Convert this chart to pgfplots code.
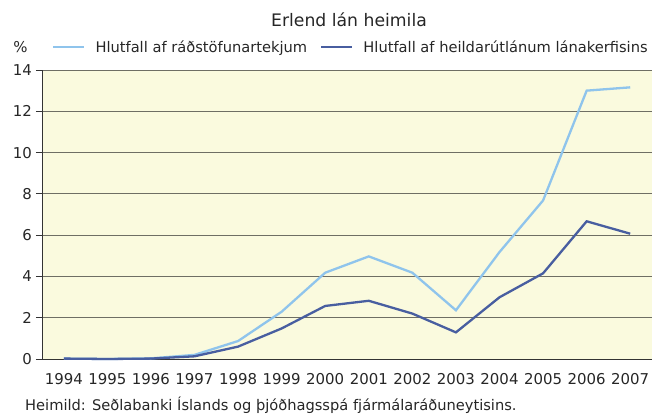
\documentclass[border=0pt]{standalone}
\usepackage{pgfplots}
\pgfplotsset{compat=1.18}
\usepackage{fontspec}
\setmainfont{DejaVu Sans}
\definecolor{bgyel}{RGB}{250,250,222}
\definecolor{lblue}{RGB}{143,196,236}
\definecolor{dblue}{RGB}{72,94,160}
\definecolor{gridc}{RGB}{110,110,100}
\begin{document}
\begin{tikzpicture}
\useasboundingbox (0,0) rectangle (652bp,414bp);
\begin{axis}[
  at={(42bp,55bp)}, anchor=south west,
  scale only axis, width=610bp, height=289bp,
  xmin=-0.5, xmax=13.5, ymin=0, ymax=14,
  axis x line=bottom, axis y line=left,
  axis line style={-, black!80, line width=0.9bp},
  axis background/.style={fill=bgyel},
  xtick={0,...,13},
  xticklabels={1994,1995,1996,1997,1998,1999,2000,2001,2002,2003,2004,2005,2006,2007},
  major x tick style={draw=none},
  extra x ticks={-0.5,0.5,...,13.5},
  extra x tick labels={},
  extra x tick style={major tick length=6bp, tick align=outside, tick style={black!80, line width=0.8bp}, grid=none},
  ytick={0,2,...,14},
  ymajorgrids,
  major grid style={gridc, line width=0.9bp},
  tick align=outside, major tick length=6bp,
  tick style={black!80, line width=0.8bp},
  ticklabel style={font=\fontsize{15}{17}\selectfont, text=black!85},
  xticklabel style={yshift=-4.5bp},
  yticklabel style={xshift=-0.5bp},
  /pgf/number format/assume math mode=true,
  legend style={at={(axis description cs:0.0164,1.0796)}, anchor=west, draw=none, fill=none,
    inner sep=0pt, nodes={inner sep=0pt, text=black!85},
    font=\fontsize{14.7}{17}\selectfont, legend columns=2,
    /tikz/every odd column/.append style={column sep=10bp},
    /tikz/every even column/.append style={column sep=13bp}},
  legend image code/.code={\draw[#1] (0bp,0bp) -- (31bp,0bp);},
  clip=false,
]
\addplot[lblue, line width=2.3bp] coordinates {
(0,0.02) (1,0.0) (2,0.03) (3,0.2) (4,0.87) (5,2.29) (6,4.18) (7,4.97) (8,4.18) (9,2.36) (10,5.18) (11,7.68) (12,13.0) (13,13.16)};
\addlegendentry{Hlutfall af ráðstöfunartekjum}
\addplot[dblue, line width=2.3bp] coordinates {
(0,0.02) (1,0.0) (2,0.02) (3,0.13) (4,0.6) (5,1.48) (6,2.57) (7,2.82) (8,2.2) (9,1.29) (10,2.99) (11,4.15) (12,6.67) (13,6.07)};
\addlegendentry{Hlutfall af heildarútlánum lánakerfisins}
\end{axis}
\node[font=\fontsize{17.3}{20}\selectfont, text=black!85] at (349bp,394bp) {Erlend lán heimila};
\node[font=\fontsize{15}{17}\selectfont, text=black!85] at (20.5bp,367bp) {\%};
\node[font=\fontsize{14.7}{17}\selectfont, text=black!85, anchor=base west, inner xsep=0pt] at (25bp,3.5bp) {Heimild: Seðlabanki Íslands og þjóðhagsspá fjármálaráðuneytisins.};
\end{tikzpicture}
\end{document}
